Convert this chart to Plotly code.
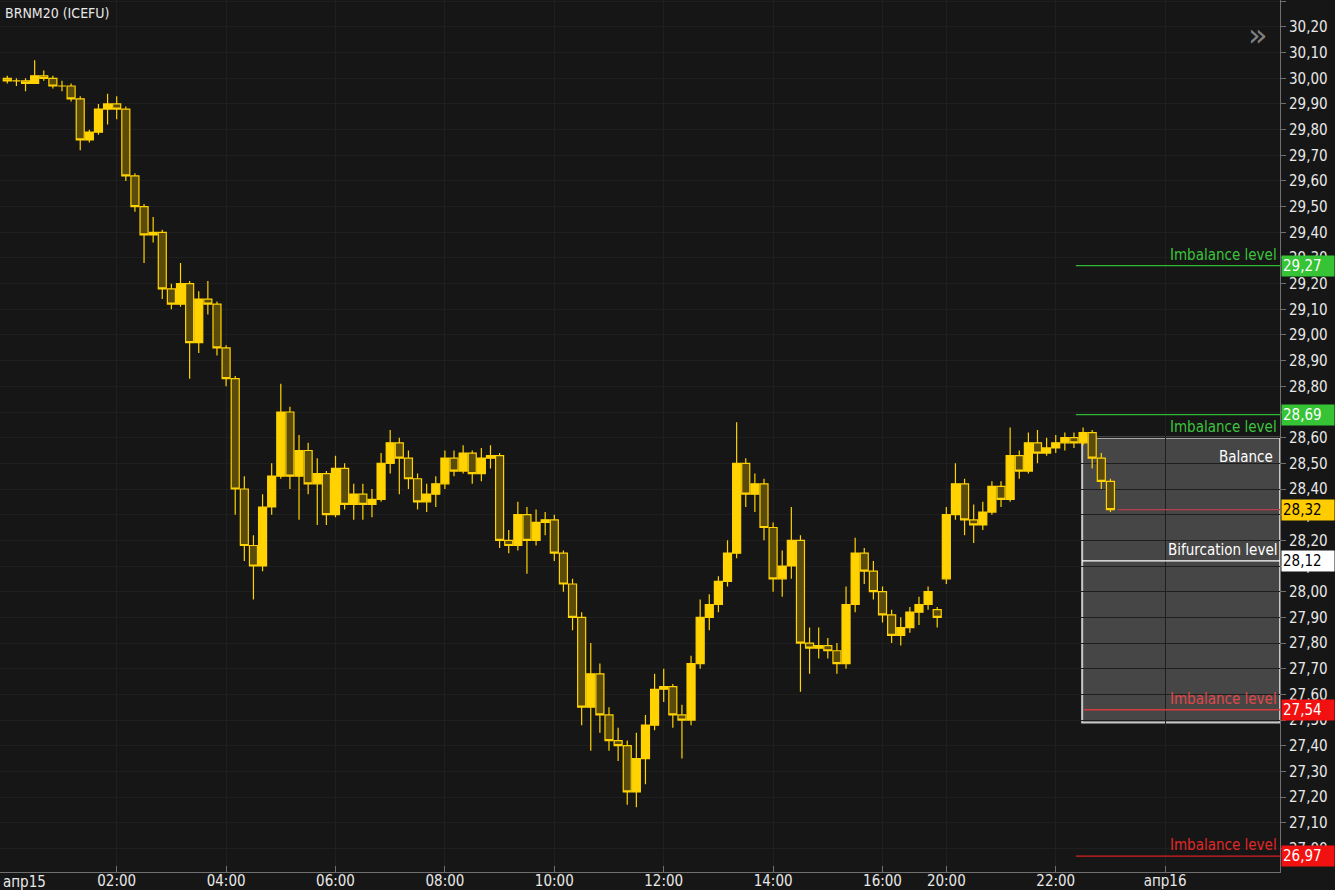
import plotly.graph_objects as go
import pandas as pd

# ---------------- data (10-minute bars) ----------------
session1_start, session1_end = "2020-04-15 00:00", "2020-04-15 17:00"
session2_start, session2_end = "2020-04-15 20:00", "2020-04-15 23:00"

opens = [30.00, 29.99, 29.99, 29.98, 30.01, 30.00, 29.97, 29.97, 29.92, 29.76,
         29.79, 29.88, 29.90, 29.88, 29.62, 29.50, 29.39, 29.40, 29.18, 29.12,
         29.20, 28.97, 29.14, 29.12, 28.95, 28.83, 28.40, 28.18, 28.10, 28.33,
         28.45, 28.70, 28.45, 28.55, 28.42, 28.46, 28.30, 28.48, 28.34, 28.38,
         28.34, 28.36, 28.50, 28.58, 28.52, 28.44, 28.35, 28.38, 28.42, 28.52,
         28.47, 28.54, 28.46, 28.52, 28.53, 28.20, 28.18, 28.30, 28.20, 28.27,
         28.28, 28.15, 28.03, 27.90, 27.55, 27.68, 27.52, 27.42, 27.40, 27.22,
         27.35, 27.48, 27.62, 27.63, 27.52, 27.50, 27.72, 27.90, 27.95, 28.04,
         28.15, 28.50, 28.38, 28.42, 28.25, 28.05, 28.10, 28.20, 27.80, 27.78,
         27.79, 27.77, 27.72, 27.95, 28.15, 28.08, 28.00, 27.91, 27.83, 27.86,
         27.92, 27.95, 27.93,
         28.05, 28.30, 28.42, 28.28, 28.26, 28.31, 28.41, 28.36, 28.53, 28.47,
         28.58, 28.54, 28.56, 28.58, 28.60, 28.58, 28.62, 28.52, 28.43]
highs = [30.01, 30.00, 30.00, 30.07, 30.03, 30.01, 29.99, 29.98, 29.93, 29.80,
         29.90, 29.94, 29.93, 29.89, 29.63, 29.51, 29.46, 29.41, 29.20, 29.28,
         29.21, 29.17, 29.21, 29.13, 28.96, 28.84, 28.45, 28.22, 28.38, 28.50,
         28.81, 28.72, 28.61, 28.58, 28.52, 28.47, 28.53, 28.50, 28.42, 28.42,
         28.40, 28.54, 28.63, 28.60, 28.55, 28.46, 28.42, 28.45, 28.55, 28.55,
         28.57, 28.55, 28.56, 28.57, 28.54, 28.24, 28.35, 28.33, 28.32, 28.31,
         28.30, 28.16, 28.05, 27.92, 27.80, 27.72, 27.55, 27.47, 27.42, 27.45,
         27.52, 27.68, 27.70, 27.64, 27.56, 27.75, 27.97, 27.99, 28.06, 28.20,
         28.66, 28.52, 28.46, 28.44, 28.27, 28.16, 28.33, 28.22, 27.86, 27.86,
         27.82, 27.80, 28.02, 28.21, 28.17, 28.12, 28.02, 27.93, 27.90, 27.94,
         27.98, 28.02, 27.94,
         28.33, 28.50, 28.44, 28.34, 28.35, 28.43, 28.43, 28.64, 28.55, 28.62,
         28.63, 28.60, 28.61, 28.62, 28.62, 28.64, 28.63, 28.54, 28.44]
lows = [29.98, 29.97, 29.95, 29.98, 29.99, 29.96, 29.95, 29.91, 29.72, 29.75,
        29.78, 29.82, 29.84, 29.60, 29.48, 29.28, 29.36, 29.14, 29.10, 29.11,
        28.83, 28.93, 29.08, 28.92, 28.80, 28.30, 28.12, 27.97, 28.08, 28.30,
        28.44, 28.40, 28.28, 28.38, 28.26, 28.26, 28.29, 28.32, 28.28, 28.28,
        28.29, 28.35, 28.46, 28.38, 28.40, 28.32, 28.31, 28.33, 28.40, 28.45,
        28.46, 28.42, 28.43, 28.48, 28.17, 28.15, 28.16, 28.07, 28.18, 28.22,
        28.12, 28.00, 27.85, 27.48, 27.38, 27.45, 27.38, 27.34, 27.17, 27.16,
        27.25, 27.46, 27.57, 27.47, 27.35, 27.48, 27.70, 27.85, 27.92, 28.02,
        28.13, 28.33, 28.31, 28.20, 28.00, 27.98, 28.05, 27.61, 27.68, 27.74,
        27.74, 27.68, 27.70, 27.92, 28.03, 27.97, 27.88, 27.80, 27.79, 27.84,
        27.87, 27.93, 27.86,
        28.03, 28.28, 28.22, 28.19, 28.24, 28.30, 28.33, 28.35, 28.44, 28.46,
        28.50, 28.53, 28.54, 28.55, 28.56, 28.57, 28.48, 28.40, 28.31]
closes = [29.99, 29.99, 29.98, 30.01, 30.00, 29.97, 29.97, 29.92, 29.76, 29.79,
          29.88, 29.90, 29.88, 29.62, 29.50, 29.39, 29.40, 29.18, 29.12, 29.20,
          28.97, 29.14, 29.12, 28.95, 28.83, 28.40, 28.18, 28.10, 28.33, 28.45,
          28.70, 28.45, 28.55, 28.42, 28.46, 28.30, 28.48, 28.34, 28.38, 28.34,
          28.36, 28.50, 28.58, 28.52, 28.44, 28.35, 28.38, 28.42, 28.52, 28.47,
          28.54, 28.46, 28.52, 28.53, 28.20, 28.18, 28.30, 28.20, 28.27, 28.28,
          28.15, 28.03, 27.90, 27.55, 27.68, 27.52, 27.42, 27.40, 27.22, 27.35,
          27.48, 27.62, 27.63, 27.52, 27.50, 27.72, 27.90, 27.95, 28.04, 28.15,
          28.50, 28.38, 28.42, 28.25, 28.05, 28.10, 28.20, 27.80, 27.78, 27.79,
          27.77, 27.72, 27.95, 28.15, 28.08, 28.00, 27.91, 27.83, 27.86, 27.92,
          27.95, 28.00, 27.90,
          28.30, 28.42, 28.28, 28.26, 28.31, 28.41, 28.36, 28.53, 28.47, 28.58,
          28.54, 28.56, 28.58, 28.60, 28.58, 28.62, 28.52, 28.43, 28.32]

# analysis levels
level_prices = [29.27, 28.69, 28.12, 27.54, 26.97]
level_names = ["Imbalance level", "Imbalance level", "Bifurcation level",
               "Imbalance level", "Imbalance level"]
level_starts = ["2020-04-15 22:22", "2020-04-15 22:22", "2020-04-15 22:29",
                "2020-04-15 22:31", "2020-04-15 22:22"]
level_text_below = [False, True, False, False, False]
level_line_colors = ["#33b833", "#33b833", "#ffffff", "#d63a3a", "#d62020"]
level_text_colors = ["#3cc43c", "#3cc43c", "#ffffff", "#e04848", "#e02828"]
level_tag_bg = ["#36c336", "#36c336", "#ffffff", "#f21111", "#f21111"]
level_tag_fg = ["#ffffff", "#ffffff", "#000000", "#ffffff", "#ffffff"]

balance_top, balance_bottom = 28.60, 27.49
balance_start = "2020-04-15 22:29"
last_price = 28.32
last_price_start = "2020-04-15 23:08"

x_range = ["2020-04-14 23:52", "2020-04-16 02:06"]
gap = ["2020-04-15 17:10", "2020-04-15 20:00"]
tick_vals = ["2020-04-15 02:00", "2020-04-15 04:00", "2020-04-15 06:00",
             "2020-04-15 08:00", "2020-04-15 10:00", "2020-04-15 12:00",
             "2020-04-15 14:00", "2020-04-15 16:00", "2020-04-15 20:00",
             "2020-04-15 22:00", "2020-04-16 00:00"]
tick_text = ["02:00", "04:00", "06:00", "08:00", "10:00", "12:00",
             "14:00", "16:00", "20:00", "22:00", "апр16"]

times = (list(pd.date_range(session1_start, session1_end, freq="10min")) +
         list(pd.date_range(session2_start, session2_end, freq="10min")))

FONT = "Liberation Sans Narrow, DejaVu Sans Condensed, Roboto, sans-serif"
BG = "#161616"
YEL = "#FFD200"

fig = go.Figure()
fig.add_trace(go.Candlestick(
    x=times, open=opens, high=highs, low=lows, close=closes,
    increasing=dict(line=dict(color=YEL, width=1.2), fillcolor=YEL),
    decreasing=dict(line=dict(color=YEL, width=1.2), fillcolor="rgba(90,75,10,1)"),
    whiskerwidth=0, hoverinfo="skip", showlegend=False,
))

def fmt(v):
    return f"{v:.2f}".replace(".", ",")

shapes = []
annotations = []

# balance box
shapes.append(dict(type="rect", xref="x", yref="y", x0=balance_start, x1=x_range[1],
                   y0=balance_bottom, y1=balance_top,
                   fillcolor="#464646", line=dict(color="#c8c8c8", width=2), layer="below"))

for p, name, st, below, lc, tc, bg, fg in zip(level_prices, level_names, level_starts,
                                              level_text_below, level_line_colors,
                                              level_text_colors, level_tag_bg, level_tag_fg):
    shapes.append(dict(type="line", xref="x", yref="y", x0=st, x1=x_range[1], y0=p, y1=p,
                       line=dict(color=lc, width=1.3)))
    annotations.append(dict(x=1, xref="paper", y=p, yref="y", text=name,
                            xanchor="right", yanchor="top" if below else "bottom",
                            xshift=-1, yshift=-1 if below else 0, showarrow=False,
                            font=dict(family=FONT, size=15, color=tc)))
    annotations.append(dict(x=1, xref="paper", y=p, yref="y", text=fmt(p),
                            xanchor="left", yanchor="middle", showarrow=False,
                            bgcolor=bg, font=dict(family=FONT, size=15, color=fg),
                            width=50, align="left", borderpad=1, xshift=1))

# last price line + tag
shapes.append(dict(type="line", xref="x", yref="y", x0=last_price_start, x1=x_range[1],
                   y0=last_price, y1=last_price, line=dict(color="#b8404e", width=1.3)))
annotations.append(dict(x=1, xref="paper", y=last_price, yref="y", text=fmt(last_price),
                        xanchor="left", yanchor="middle", showarrow=False,
                        bgcolor="#FFCC00", font=dict(family=FONT, size=15, color="#000000"),
                        width=50, align="left", borderpad=1, xshift=1))

annotations.append(dict(x=1, xref="paper", y=balance_top, yref="y", text="Balance",
                        xanchor="right", yanchor="top", xshift=-5, yshift=-8,
                        showarrow=False, font=dict(family=FONT, size=15, color="#ffffff")))

annotations.append(dict(x=0, xref="paper", y=1, yref="paper", text="BRNM20 (ICEFU)",
                        xanchor="left", yanchor="top", xshift=3, yshift=-3,
                        showarrow=False, font=dict(family=FONT, size=14, color="#e8e8e8")))
annotations.append(dict(x=0.983, xref="paper", y=0.96, yref="paper", text="»",
                        xanchor="center", yanchor="middle", showarrow=False,
                        font=dict(family="DejaVu Sans", size=32, color="#808080")))
annotations.append(dict(x=0, xref="paper", y=0, yref="paper", text="апр15",
                        xanchor="left", yanchor="top", xshift=1, yshift=1,
                        showarrow=False, font=dict(family=FONT, size=15, color="#e8e8e8")))

fig.update_layout(
    width=1335, height=890,
    margin=dict(l=0, r=55, t=0, b=18, autoexpand=False),
    paper_bgcolor=BG, plot_bgcolor=BG,
    separators=", ",
    boxgap=0.0, boxgroupgap=0.12,
    font=dict(family=FONT, size=15, color="#e8e8e8"),
    shapes=shapes, annotations=annotations,
    showlegend=False, hovermode=False,
    xaxis=dict(type="date", range=x_range, rangebreaks=[dict(bounds=gap)],
               rangeslider=dict(visible=False), automargin=False,
               tickmode="array", tickvals=tick_vals, ticktext=tick_text,
               ticks="inside", ticklen=6, tickcolor="#707070",
               ticklabelstandoff=-5,
               showline=True, linecolor="#707070", linewidth=1,
               showgrid=True, gridcolor="#1f1f1f", gridwidth=1,
               tickfont=dict(family=FONT, size=15, color="#e8e8e8"),
               fixedrange=True),
    yaxis=dict(side="right", range=[26.908, 30.305], dtick=0.1, tick0=27.0,
               automargin=False,
               tickformat=".2f", ticks="outside", ticklen=5, tickcolor="#707070",
               showline=True, linecolor="#707070", linewidth=1,
               showgrid=True, gridcolor="#1f1f1f", zeroline=False,
               tickfont=dict(family=FONT, size=15, color="#e8e8e8"),
               fixedrange=True),
)

fig.write_html("out.html",
               config={"displayModeBar": False},
               post_script="document.body.style.margin='0px';"
                           "document.body.style.overflow='hidden';"
                           "document.body.style.background='#161616';")
